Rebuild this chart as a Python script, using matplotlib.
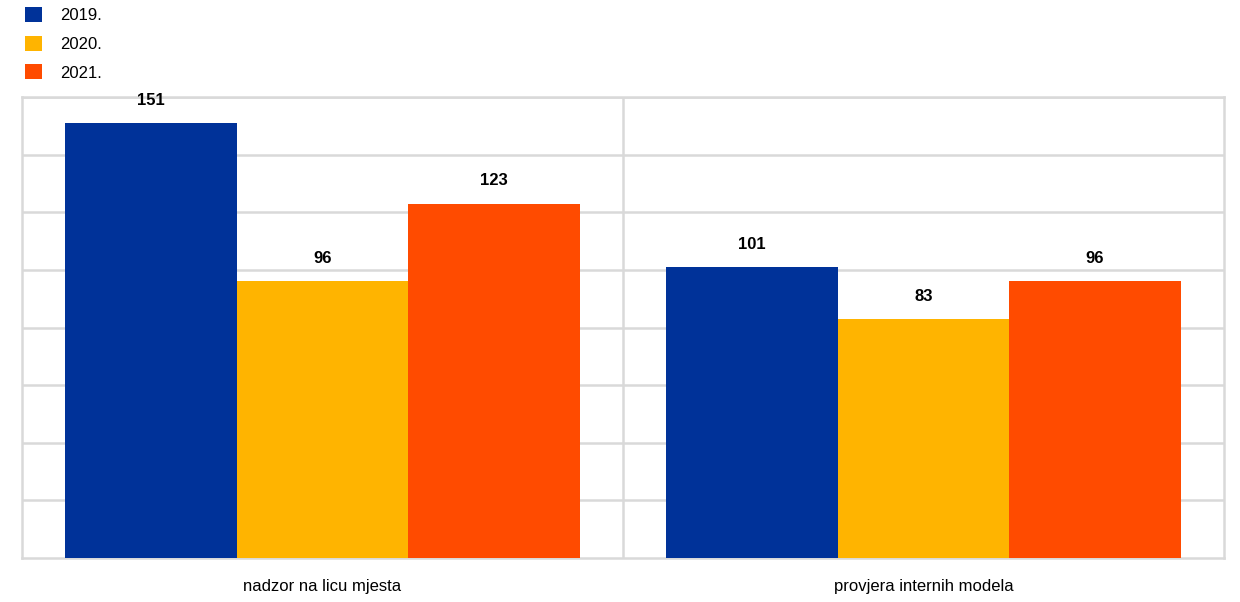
import matplotlib.pyplot as plt
import numpy as np
from matplotlib.patches import Patch

plt.rcParams['font.family'] = ['Liberation Sans', 'DejaVu Sans']

# Data
categories = ['nadzor na licu mjesta', 'provjera internih modela']
years = ['2019.', '2020.', '2021.']
values_2019 = [151, 101]
values_2020 = [96, 83]
values_2021 = [123, 96]
colors = ['#003299', '#FFB400', '#FF4B00']
grid_color = '#D9D9D9'

fig = plt.figure(figsize=(12.4, 6.02), dpi=100)
ax = fig.add_axes([22 / 1240, 44 / 602, 1202 / 1240, 461 / 602])

x = np.arange(len(categories))
width = 0.2854
series = [values_2019, values_2020, values_2021]

for i, (vals, col) in enumerate(zip(series, colors)):
    bars = ax.bar(x + (i - 1) * width, vals, width, color=col, zorder=3)
    for bar, v in zip(bars, vals):
        ax.annotate(f'{v}', (bar.get_x() + bar.get_width() / 2, v),
                    xytext=(0, 11), textcoords='offset points',
                    ha='center', va='bottom', fontsize=12, fontweight='bold',
                    zorder=4)

ax.set_xlim(-0.5, 1.5)
ax.set_ylim(0, 160)
ax.set_yticks(np.arange(20, 161, 20))
ax.set_yticklabels([])
ax.set_xticks(x)
ax.set_xticklabels(categories, fontsize=12)
ax.tick_params(axis='both', length=0)
ax.tick_params(axis='x', pad=15)
ax.grid(True, axis='y', color=grid_color, linewidth=1.8, zorder=0)
ax.axvline(0.5, color=grid_color, linewidth=1.8, zorder=0)
for s in ax.spines.values():
    s.set_color(grid_color)
    s.set_linewidth(1.8)

handles = [Patch(facecolor=c, edgecolor='none') for c in colors]
fig.legend(handles, years, loc='upper left',
           bbox_to_anchor=(25 / 1240, 1 - 7 / 602), frameon=False,
           fontsize=12, handlelength=1.0, handleheight=1.0,
           handletextpad=1.1, labelspacing=0.75, borderpad=0,
           borderaxespad=0)

fig.savefig('out.png', dpi=100)
